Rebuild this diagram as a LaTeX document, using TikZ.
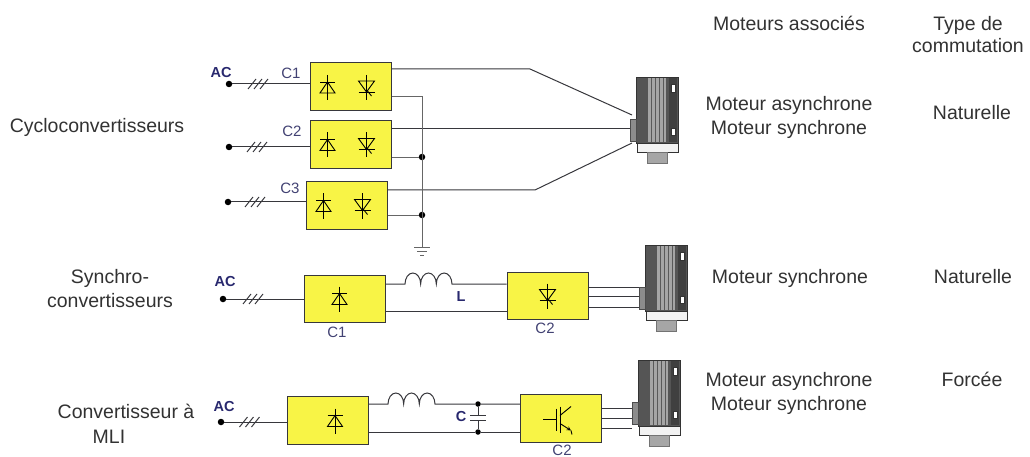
\documentclass[tikz,border=0pt]{standalone}
\usepackage{fontspec}
\setmainfont{Liberation Sans}
\usetikzlibrary{positioning}

\definecolor{jaune}{RGB}{248,244,70}
\definecolor{trait}{RGB}{55,55,60}
\definecolor{marine}{RGB}{40,40,110}
\definecolor{gristexte}{RGB}{50,50,50}
\definecolor{moteurfonce}{RGB}{85,85,85}
\definecolor{moteurclair}{RGB}{165,165,165}

\tikzset{
  boite/.style={draw=trait,fill=jaune,line width=1pt,minimum width=81pt,minimum height=48pt,inner sep=0pt},
  fil/.style={draw=trait,line width=1pt},
  filgris/.style={draw=black!60,line width=0.9pt},
  point/.style={circle,fill=black,inner sep=0pt,minimum size=6.5pt},
  texte/.style={font=\fontsize{19.5}{23}\selectfont,text=gristexte,anchor=base,inner sep=0pt},
  ac/.style={font=\fontsize{14.5}{16}\selectfont\bfseries,text=marine,inner sep=0pt},
  nom/.style={font=\fontsize{15}{17}\selectfont,text=marine!70!gray,inner sep=0pt},
  diode/.pic={
    \draw[line width=0.9pt] (-7.5,6) -- (7.5,6) -- (0,-5) -- cycle;
    \draw[line width=0.9pt] (-7.5,-5) -- (7.5,-5);
    \draw[line width=0.9pt] (0,-12) -- (0,13);
  },
  thyr/.pic={
    \draw[line width=0.9pt] (-8,-6) -- (8,-6) -- (0,5) -- cycle;
    \draw[line width=0.9pt] (-8,5) -- (8,5);
    \draw[line width=0.9pt] (0,-12) -- (0,13);
    \draw[line width=0.9pt] (1,4) -- (5,9);
  },
  igbt/.pic={
    \draw[line width=0.9pt] (-18,0) -- (-5,0);
    \draw[line width=0.9pt] (-5,-11) -- (-5,11);
    \draw[line width=0.9pt] (-1,-13) -- (-1,13);
    \draw[line width=0.9pt] (-1,-4) -- (10,-13);
    \draw[line width=0.9pt,->] (-1,4) -- (10,11);
    \draw[line width=0.9pt] (10,11) -- (11,15);
  },
  triph/.pic={
    \foreach \i in {-6,0,6} \draw[fil] (\i-4,5) -- (\i+4,-5);
  },
  moteur/.pic={
    \draw[black!80,fill=moteurfonce] (0,0) rectangle (42,66);
    \fill[moteurclair] (12,1) rectangle (30,65);
    \foreach \x in {15,19,23,27} \draw[black!65,line width=0.7pt] (\x,1) -- (\x,65);
    \fill[black!75] (33,1) rectangle (41,65);
    \draw[black!80,fill=white] (35,7) rectangle (39,15);
    \draw[black!80,fill=white] (35,51) rectangle (39,58);
    \draw[black!80,fill=black!5] (1,66) rectangle (42,75);
    \draw[black!55,fill=black!35] (11,75) rectangle (31,86);
    \draw[black!70,fill=black!45] (-6,42) rectangle (0,64);
    \coordinate (-a) at (-4,38);
    \coordinate (-b) at (-6,52);
    \coordinate (-c) at (-4,66);
  }
}

\begin{document}
\begin{tikzpicture}[x=1pt,y=-1pt,>=stealth]
\useasboundingbox (0,0) rectangle (1030,457);

      \node[texte] (h1) at (789,31) {Moteurs associés};
      \node[texte] (h2) at (968,31) {Type de};
      \node[texte] (h3) at (968,53) {commutation};

      \node[texte] (t1) at (97,133) {Cycloconvertisseurs};
      \node[texte] (t2) at (110,283) {Synchro-};
      \node[texte] (t3) at (110,307) {convertisseurs};
      \node[texte] (t4) at (126,418) {Convertisseur à};
      \node[texte] (t5) at (109,443) {MLI};

      \node[texte] (r1a) at (789,111) {Moteur asynchrone};
      \node[texte] (r1b) at (789,135) {Moteur synchrone};
      \node[texte] (r1c) at (972,120) {Naturelle};
      \node[texte] (r2a) at (790,283) {Moteur synchrone};
      \node[texte] (r2c) at (973,283) {Naturelle};
      \node[texte] (r3a) at (789,386) {Moteur asynchrone};
      \node[texte] (r3b) at (789,410) {Moteur synchrone};
      \node[texte] (r3c) at (972,386) {Forcée};

      % cycloconvertisseurs
      \node[boite] (b1) at (350.5,87) {};
      \node[boite] (b2) at (350.5,144.5) {};
      \node[boite] (b3) at (346.5,205.5) {};
      \node[point] (d1) at (229,84) {};
      \node[point] (d2) at (229,147) {};
      \node[point] (d3) at (228,202) {};
      \node[ac] (ac1) at (221,73) {AC};
      \node[nom] (n1) at (291,73) {C1};
      \node[nom] (n2) at (292,131) {C2};
      \node[nom] (n3) at (290,188) {C3};

      \pic at ([xshift=-23pt]b1.center) {diode};
      \pic at ([xshift=16pt]b1.center) {thyr};
      \pic at ([xshift=-23pt]b2.center) {diode};
      \pic at ([xshift=16pt]b2.center) {thyr};
      \pic at ([xshift=-23pt]b3.center) {diode};
      \pic at ([xshift=16pt]b3.center) {thyr};

      \draw[fil] (d1) -- (d1 -| b1.west);
      \draw[fil] (d2) -- (d2 -| b2.west);
      \draw[fil] (d3) -- (d3 -| b3.west);
      \pic at (258,84) {triph};
      \pic at (257,147) {triph};
      \pic at (255,202) {triph};

      \pic (m1) at (636,77) {moteur};
      \coordinate (k1) at (530,69);
      \coordinate (k3) at (535,190);
      \draw[fil] ([yshift=18pt]b1.east) -- (k1) -- (m1-a);
      \draw[fil] ([yshift=15.5pt]b2.east) -- ([yshift=15.5pt]b2.east -| m1-b);
      \draw[fil] ([yshift=15.5pt]b3.east) -- (k3) -- (m1-c);

      \coordinate (g) at (422,247);
      \node[point] (p2) at (422,157) {};
      \node[point] (p3) at (422,215) {};
      \draw[filgris] ([yshift=-9pt]b1.east) -| (g);
      \draw[filgris] ([yshift=-12.5pt]b2.east) -- (p2);
      \draw[filgris] ([yshift=-9.5pt]b3.east) -- (p3);
      \draw[filgris] ([xshift=-8pt]g) -- ([xshift=8pt]g)
        ([xshift=-5pt,yshift=-4pt]g) -- ([xshift=5pt,yshift=-4pt]g)
        ([xshift=-2pt,yshift=-8pt]g) -- ([xshift=2pt,yshift=-8pt]g);

      % synchroconvertisseurs
      \node[boite,minimum height=47pt] (c1) at (345,298.5) {};
      \node[boite,minimum height=47pt] (c2) at (547.5,295.5) {};
      \node[point] (d4) at (223,299) {};
      \node[ac] (ac2) at (225,282) {AC};
      \node[nom] (n4) at (337,332) {C1};
      \node[nom] (n5) at (545,328) {C2};
      \node[ac] (lab) at (461,297) {L};
      \pic at ([xshift=-5.5pt]c1.center) {diode};
      \pic at (c2.center) {thyr};

      \draw[fil] (d4) -- (d4 -| c1.west);
      \pic at (253,299) {triph};
      \coordinate (l1) at (405,284);
      \draw[fil] ([yshift=14.5pt]c1.east) -- (l1)
        arc[start angle=180,end angle=360,x radius=7.83,y radius=11]
        arc[start angle=180,end angle=360,x radius=7.83,y radius=11]
        arc[start angle=180,end angle=360,x radius=7.83,y radius=11]
        -- (l1 -| c2.west);
      \draw[fil] ([yshift=-12.5pt]c1.east) -- ([yshift=-12.5pt]c1.east -| c2.west);

      \pic (m2) at (645,245) {moteur};
      \foreach \s in {8pt,-1pt,-12pt}
        \draw[fil] ([yshift=\s]c2.east) -- ([yshift=\s]c2.east -| m2-b);

      % convertisseur a MLI
      \node[boite] (e1) at (327.5,420.5) {};
      \node[boite] (e2) at (561,418.5) {};
      \node[point] (d5) at (221,422) {};
      \node[ac] (ac3) at (224,407) {AC};
      \node[ac] (cap) at (461,417) {C};
      \node[nom] (n6) at (562,450) {C2};
      \pic at ([xshift=7.5pt]e1.center) {diode};
      \pic at ([yshift=-1pt]e2.center) {igbt};

      \draw[fil] (d5) -- (d5 -| e1.west);
      \pic at (249.5,422) {triph};
      \coordinate (l2) at (388,404);
      \node[point,minimum size=5.5pt] (q1) at (478,404) {};
      \node[point,minimum size=5.5pt] (q2) at (478,432) {};
      \draw[fil] ([yshift=16.5pt]e1.east) -- (l2)
        arc[start angle=180,end angle=360,x radius=7.83,y radius=11]
        arc[start angle=180,end angle=360,x radius=7.83,y radius=11]
        arc[start angle=180,end angle=360,x radius=7.83,y radius=11]
        -- (q1) -- (q1 -| e2.west);
      \draw[fil] ([yshift=-11.5pt]e1.east) -- (q2) -- (q2 -| e2.west);
      \draw[fil] (q1) -- (478,415) (470,415) -- (486,415) (470,420) -- (486,420) (478,420) -- (q2);

      \pic (m3) at (638,360) {moteur};
      \foreach \s in {10pt,0pt,-10pt}
        \draw[fil] ([yshift=\s]e2.east) -- ([yshift=\s]e2.east -| m3-b);
\end{tikzpicture}
\end{document}
